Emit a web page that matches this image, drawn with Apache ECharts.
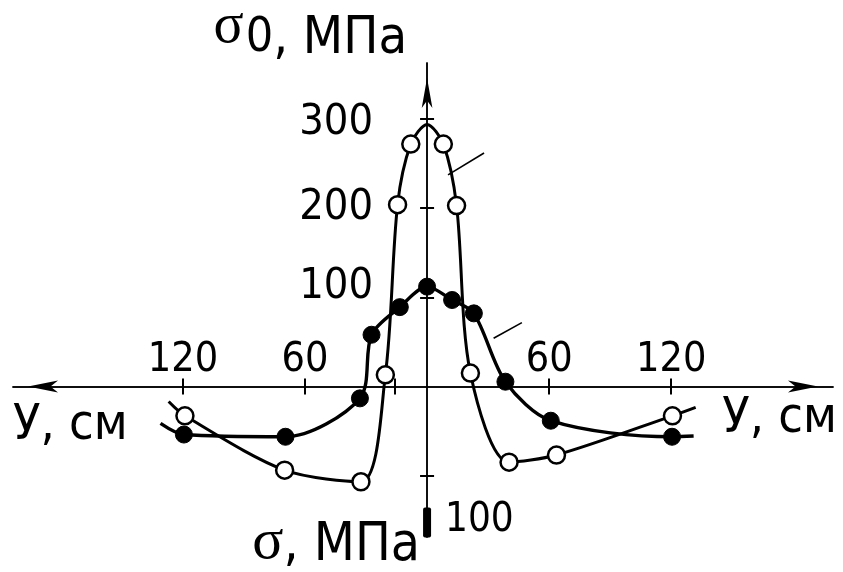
<!DOCTYPE html>
<html>
<head>
<meta charset="utf-8">
<script src="https://cdn.jsdelivr.net/npm/echarts@6/dist/echarts.min.js"></script>
<style>
  html, body { margin: 0; padding: 0; background: #fff; }
  #chart { width: 843px; height: 572px; }
</style>
</head>
<body>
<div id="chart"></div>
<script>
// Distance from the axis of symmetry, cm (negative = left branch)
const openCurveY = [-127, -119, -70, -32.5, -20.5, -14.5, -8, 0, 8, 14.5, 21.3, 40.3, 63.6, 120.6, 132];
// Stress sigma_0 along the curve with open circles, MPa
const openCurveStress = [-17, -33, -94, -107, 13, 204, 272, 294, 272, 203, 15, -85, -77, -33, -23.5];
// Which of those points are measured (drawn as circles)
const openMeasured = [false, true, true, true, true, true, true, false, true, true, true, true, true, true, false];

const filledCurveY = [-131, -119.5, -69.6, -33, -27.3, -13.4, 0, 12.3, 23, 38.5, 60.8, 120.4, 131];
const filledCurveStress = [-41.5, -54, -56.5, -13.4, 58, 89, 112, 97, 82, 5.3, -38.5, -56.5, -55.7];
const filledMeasured = [false, true, true, true, true, true, true, true, true, true, true, true, false];

// Pointer strokes next to the two curves: [[y1, s1], [y2, s2]]
const leaderLines = [
  [[10.3, 237.5], [28, 262]],
  [[32.7, 54], [46.6, 71.6]]
];

const xTickValues = [-120, -60, -16, 60, 120];
const xLabelValues = [-120, -60, 60, 120];
const yTickValues = [-100, 100, 200, 300];
const yLabelValues = [100, 200, 300];
const yLowerLabelValues = [-100];

const SANS = '"Liberation Sans Narrow", "DejaVu Sans Condensed", "Roboto Condensed", Roboto, sans-serif';
const SERIF = '"Liberation Serif", "DejaVu Serif", serif';

function buildPoints(xs, ys, measured) {
  return xs.map((x, i) => measured[i]
    ? { value: [x, ys[i]] }
    : { value: [x, ys[i]], symbol: 'none' });
}

const X_MIN = -203.5, X_MAX = 199.5, Y_MIN = -169, Y_MAX = 363;
const W = 843, H = 572;
const G = { left: 13, right: 10, top: 63, bottom: 35 };
const gridW = W - G.left - G.right;
const gridH = H - G.top - G.bottom;
// pixel position of the zero lines inside the grid, used to shift the axes onto them
const zeroX = G.left + (0 - X_MIN) / (X_MAX - X_MIN) * gridW;
const zeroY = G.top + (Y_MAX - 0) / (Y_MAX - Y_MIN) * gridH;

const axisLineStyle = { color: '#000', width: 1.5 };
const tickStyle = { color: '#000', width: 2 };

const chart = echarts.init(document.getElementById('chart'), null, { renderer: 'canvas' });

chart.setOption({
  backgroundColor: '#fff',
  animation: false,
  grid: { left: G.left, right: G.right, top: G.top, bottom: G.bottom, containLabel: false, outerBoundsMode: 'none' },
  xAxis: [
    {
      type: 'value', min: X_MIN, max: X_MAX, position: 'bottom',
      offset: -(H - G.bottom - zeroY),
      splitLine: { show: false },
      axisLine: { onZero: false, symbol: ['arrow', 'arrow'], symbolSize: [9, 30], symbolOffset: [15, -15], lineStyle: axisLineStyle },
      axisTick: { show: true, customValues: xTickValues, length: 8, lineStyle: tickStyle },
      axisLabel: { show: false },
      name: '{a|У, см}', nameLocation: 'start', nameGap: 0, nameMoveOverlap: false,
      nameTextStyle: {
        align: 'left', verticalAlign: 'middle',
        rich: { a: { fontFamily: SANS, fontSize: 50, color: '#000', padding: [80, 0, 0, 0] } }
      }
    },
    {
      type: 'value', min: X_MIN, max: X_MAX, position: 'top',
      offset: -(zeroY - G.top),
      splitLine: { show: false },
      axisLine: { onZero: false, symbol: 'none', lineStyle: axisLineStyle },
      axisTick: { show: true, customValues: xTickValues, length: 8, lineStyle: tickStyle },
      axisLabel: { show: true, customValues: xLabelValues, margin: 6, formatter: v => String(Math.abs(v)), fontFamily: SANS, fontSize: 41, color: '#000' },
      name: '{a|У, см}', nameLocation: 'end', nameGap: 4, nameMoveOverlap: false,
      nameTextStyle: {
        align: 'right', verticalAlign: 'middle',
        rich: { a: { fontFamily: SANS, fontSize: 50, color: '#000', padding: [66, 0, 0, 0] } }
      }
    }
  ],
  yAxis: [
    {
      type: 'value', min: Y_MIN, max: Y_MAX, position: 'left',
      offset: -(zeroX - G.left),
      splitLine: { show: false },
      axisLine: { onZero: false, symbol: ['roundRect', 'arrow'], symbolSize: [8, 30], symbolOffset: [14.5, -15], lineStyle: axisLineStyle },
      axisTick: { show: true, customValues: yTickValues, length: 7, lineStyle: tickStyle },
      axisLabel: {
        show: true, customValues: yLabelValues, margin: 54,
        // labels are set slightly off their ticks: the lowest above, the top one below
        formatter: v => (v === 100 ? '{up|' : v === 300 ? '{dn|' : '{n|') + v + '}',
        rich: {
          n: { fontFamily: SANS, fontSize: 43, color: '#000' },
          up: { fontFamily: SANS, fontSize: 43, color: '#000', padding: [0, 0, 20, 0] },
          dn: { fontFamily: SANS, fontSize: 43, color: '#000', padding: [8, 0, 0, 0] }
        }
      },
      name: '{s|σ}{z|0}{n|, МПа}', nameLocation: 'end', nameGap: 24, nameMoveOverlap: false,
      nameTextStyle: {
        align: 'right', verticalAlign: 'middle', padding: [0, 20, 0, 0],
        rich: {
          s: { fontFamily: SERIF, fontSize: 56, color: '#000', padding: [0, 2, 24, 0] },
          z: { fontFamily: SANS, fontSize: 48, color: '#000' },
          n: { fontFamily: SANS, fontSize: 52, color: '#000' }
        }
      }
    },
    {
      type: 'value', min: Y_MIN, max: Y_MAX, position: 'right',
      offset: -(W - G.right - zeroX),
      splitLine: { show: false },
      axisLine: { onZero: false, symbol: 'none', lineStyle: axisLineStyle },
      axisTick: { show: true, customValues: yTickValues, length: 7, lineStyle: tickStyle },
      axisLabel: {
        show: true, customValues: yLowerLabelValues, margin: 18,
        formatter: v => '{d|' + Math.abs(v) + '}',
        rich: { d: { fontFamily: SANS, fontSize: 40, color: '#000', padding: [90, 0, 0, 0] } }
      },
      name: '{s|σ}{n|, МПа}', nameLocation: 'start', nameGap: 9, nameMoveOverlap: false,
      nameTextStyle: {
        align: 'right', verticalAlign: 'middle', padding: [0, 7, 0, 0],
        rich: {
          s: { fontFamily: SERIF, fontSize: 58, color: '#000', padding: [0, 0, 6, 0] },
          n: { fontFamily: SANS, fontSize: 53, color: '#000' }
        }
      }
    }
  ],
  series: [
    {
      name: 'sigma0',
      type: 'line', xAxisIndex: 0, yAxisIndex: 0,
      data: buildPoints(openCurveY, openCurveStress, openMeasured),
      smooth: 0.3,
      symbol: 'circle', symbolSize: 17,
      itemStyle: { color: '#fff', borderColor: '#000', borderWidth: 2.5 },
      lineStyle: { color: '#000', width: 3 },
      markLine: {
        silent: true, symbol: 'none', animation: false,
        label: { show: false },
        lineStyle: { color: '#000', width: 1.6, type: 'solid' },
        data: leaderLines.map(seg => [{ coord: seg[0] }, { coord: seg[1] }])
      },
      z: 3
    },
    {
      name: 'sigma',
      type: 'line', xAxisIndex: 0, yAxisIndex: 0,
      data: buildPoints(filledCurveY, filledCurveStress, filledMeasured),
      smooth: 0.3,
      symbol: 'circle', symbolSize: 17,
      itemStyle: { color: '#000', borderColor: '#000', borderWidth: 1 },
      lineStyle: { color: '#000', width: 3.4 },
      z: 4
    }
  ]
});
</script>
</body>
</html>
